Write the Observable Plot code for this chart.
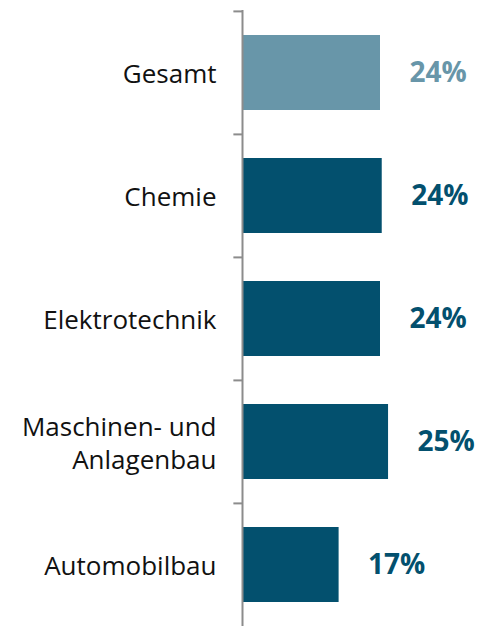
<!DOCTYPE html>
<html>
<head>
<meta charset="utf-8">
<script src="https://cdn.jsdelivr.net/npm/d3@7"></script>
<script src="https://cdn.jsdelivr.net/npm/@observablehq/plot@0.6"></script>
<style>
  html, body { margin: 0; padding: 0; background: #ffffff; }
  #chart svg { display: block; }
</style>
</head>
<body>
<div id="chart"></div>
<script>
const categories = ["Gesamt", "Chemie", "Elektrotechnik", "Maschinen- und\nAnlagenbau", "Automobilbau"];
const values = [24.0, 24.3, 24.0, 25.4, 16.8];
const valueLabels = ["24%", "24%", "24%", "25%", "17%"];
const groups = ["total", "branch", "branch", "branch", "branch"];

const data = categories.map((c, i) => ({cat: c, value: values[i], label: valueLabels[i], group: groups[i]}));

const W = 485, H = 626, mTop = 10, mBottom = 0, mLeft = 242, mRight = 13;
const bw = (H - mTop - mBottom) / categories.length;
const colors = {total: "#6896a9", branch: "#03506e"};
const font = "'Open Sans', 'Noto Sans', sans-serif";

const chart = Plot.plot({
  width: W,
  height: H,
  marginTop: mTop,
  marginBottom: mBottom,
  marginLeft: mLeft,
  marginRight: mRight,
  style: {fontFamily: font, background: "#ffffff"},
  x: {domain: [0, 40], axis: null},
  y: {domain: categories, padding: 0, axis: null},
  marks: [
    Plot.barX(data, {
      y: "cat", x1: 0, x2: "value",
      fill: d => colors[d.group],
      insetTop: 24, insetBottom: 24, insetLeft: 1
    }),
    Plot.ruleX([0], {stroke: "#8c8c8c", strokeWidth: 2}),
    Plot.ruleY(categories, {y: d => d, x1: -1.5, x2: 0, dy: -bw / 2, stroke: "#8c8c8c", strokeWidth: 2}),
    Plot.text(data, {
      y: "cat", x: 0, text: "cat", dx: -26, textAnchor: "end",
      fontSize: 26, lineHeight: 1.25, fill: "#111111"
    }),
    Plot.text(data, {
      y: "cat", x: "value", text: "label", dx: 29, textAnchor: "start",
      fontSize: 28, fontWeight: "bold", fill: d => colors[d.group]
    })
  ]
});

document.getElementById("chart").appendChild(chart);
</script>
</body>
</html>
